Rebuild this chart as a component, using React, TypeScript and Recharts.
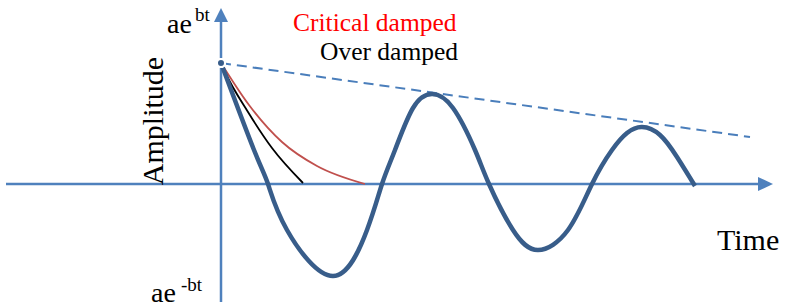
import { ComposedChart, Line, XAxis, YAxis, ReferenceLine, ReferenceDot } from 'recharts';

// time units: 1 = 10px, amplitude units: 1 = 10px
const underDamped = [
  { t: 0, a: 12.1 }, { t: 3.3, a: 3.4 }, { t: 4.7, a: 0 }, { t: 6.6, a: -4.6 },
  { t: 11.2, a: -9.2 }, { t: 14.6, a: -4.6 },
  { t: 16.1, a: 0 }, { t: 17.4, a: 3.4 }, { t: 19.2, a: 7.6 }, { t: 21.1, a: 9.0 },
  { t: 23.2, a: 7.6 }, { t: 25.4, a: 3.4 }, { t: 26.8, a: 0 }, { t: 29.2, a: -4.6 },
  { t: 31.7, a: -6.6 }, { t: 34.7, a: -4.6 }, { t: 37.1, a: 0 }, { t: 39.1, a: 3.4 },
  { t: 40.6, a: 5.1 }, { t: 42.1, a: 5.7 }, { t: 43.9, a: 4.9 }, { t: 45.6, a: 2.7 },
  { t: 47.4, a: -0.2 },
];
const criticalDamped = [
  { t: 0, a: 12.1 }, { t: 2.8, a: 7.9 }, { t: 6.1, a: 4.2 }, { t: 9.6, a: 1.8 }, { t: 14.4, a: 0 },
];
const overDamped = [
  { t: 0, a: 12.1 }, { t: 0.4, a: 11.2 }, { t: 2.7, a: 7.2 }, { t: 5.1, a: 3.6 }, { t: 8.2, a: 0.1 },
];
const envelope = [
  { t: 0, a: 12.1 }, { t: 52.9, a: 4.7 },
];
const xDomain = [-22.1, 56.4];
const yDomain = [-12.4, 18.4];
const vAxis = { from: -11.8, to: 16.3, tip: 17.6 };
const hAxis = { from: -21.5, to: 53.9, tip: 55.2 };

const AXIS = '#4f81bd';
const WAVE = '#385d8a';
const FONT = "'Liberation Serif', 'Times New Roman', serif";

const upArrow = (p: any) => (
  <polygon points={`${p.cx},${p.cy} ${p.cx - 7},${p.cy + 14} ${p.cx + 7},${p.cy + 14}`} fill={AXIS} />
);
const rightArrow = (p: any) => (
  <polygon points={`${p.cx},${p.cy} ${p.cx - 15},${p.cy - 7} ${p.cx - 15},${p.cy + 7}`} fill={AXIS} />
);

export default function App() {
  return (
    <div style={{ position: 'absolute', left: 0, top: 0, width: 785, height: 308, background: '#fff' }}>
      <ComposedChart width={785} height={308} margin={{ top: 0, right: 0, bottom: 0, left: 0 }}>
        <XAxis type="number" dataKey="t" domain={xDomain} hide allowDataOverflow />
        <YAxis type="number" dataKey="a" domain={yDomain} hide allowDataOverflow />
        <ReferenceLine segment={[{ x: 0, y: vAxis.from }, { x: 0, y: vAxis.to }]} stroke={AXIS} strokeWidth={2.5} />
        <ReferenceLine segment={[{ x: hAxis.from, y: 0 }, { x: hAxis.to, y: 0 }]} stroke={AXIS} strokeWidth={2.5} />
        <ReferenceDot x={0} y={vAxis.tip} shape={upArrow} />
        <ReferenceDot x={hAxis.tip} y={0} shape={rightArrow} />
        <Line data={envelope} dataKey="a" type="linear" stroke="#4a7ebb" strokeWidth={2} strokeDasharray="10 6" dot={false} isAnimationActive={false} />
        <Line data={criticalDamped} dataKey="a" type="monotone" stroke="#c0504d" strokeWidth={1.8} dot={false} isAnimationActive={false} />
        <Line data={overDamped} dataKey="a" type="monotone" stroke="#000" strokeWidth={1.8} dot={false} isAnimationActive={false} />
        <Line data={underDamped} dataKey="a" type="natural" stroke={WAVE} strokeWidth={4.5} dot={false} isAnimationActive={false} />
      </ComposedChart>
      <svg width={785} height={308} style={{ position: 'absolute', left: 0, top: 0, pointerEvents: 'none', fontFamily: FONT }}>
        <text x={167} y={33} fontSize={28} style={{ fontFamily: FONT }}>ae</text>
        <text x={195} y={21} fontSize={19} style={{ fontFamily: FONT }}>bt</text>
        <text x={151} y={302} fontSize={28} style={{ fontFamily: FONT }}>ae</text>
        <text x={181} y={291} fontSize={19} style={{ fontFamily: FONT }}>-bt</text>
        <text x={293} y={31} fontSize={25.5} fill="#ff0000" style={{ fontFamily: FONT }}>Critical damped</text>
        <text x={320} y={59.5} fontSize={25.5} fill="#000" style={{ fontFamily: FONT }}>Over damped</text>
        <text x={717} y={250} fontSize={30} style={{ fontFamily: FONT }}>Time</text>
        <text x={163} y={121} fontSize={30} textAnchor="middle" transform="rotate(-90 163 121)" style={{ fontFamily: FONT }}>Amplitude</text>
      </svg>
    </div>
  );
}
